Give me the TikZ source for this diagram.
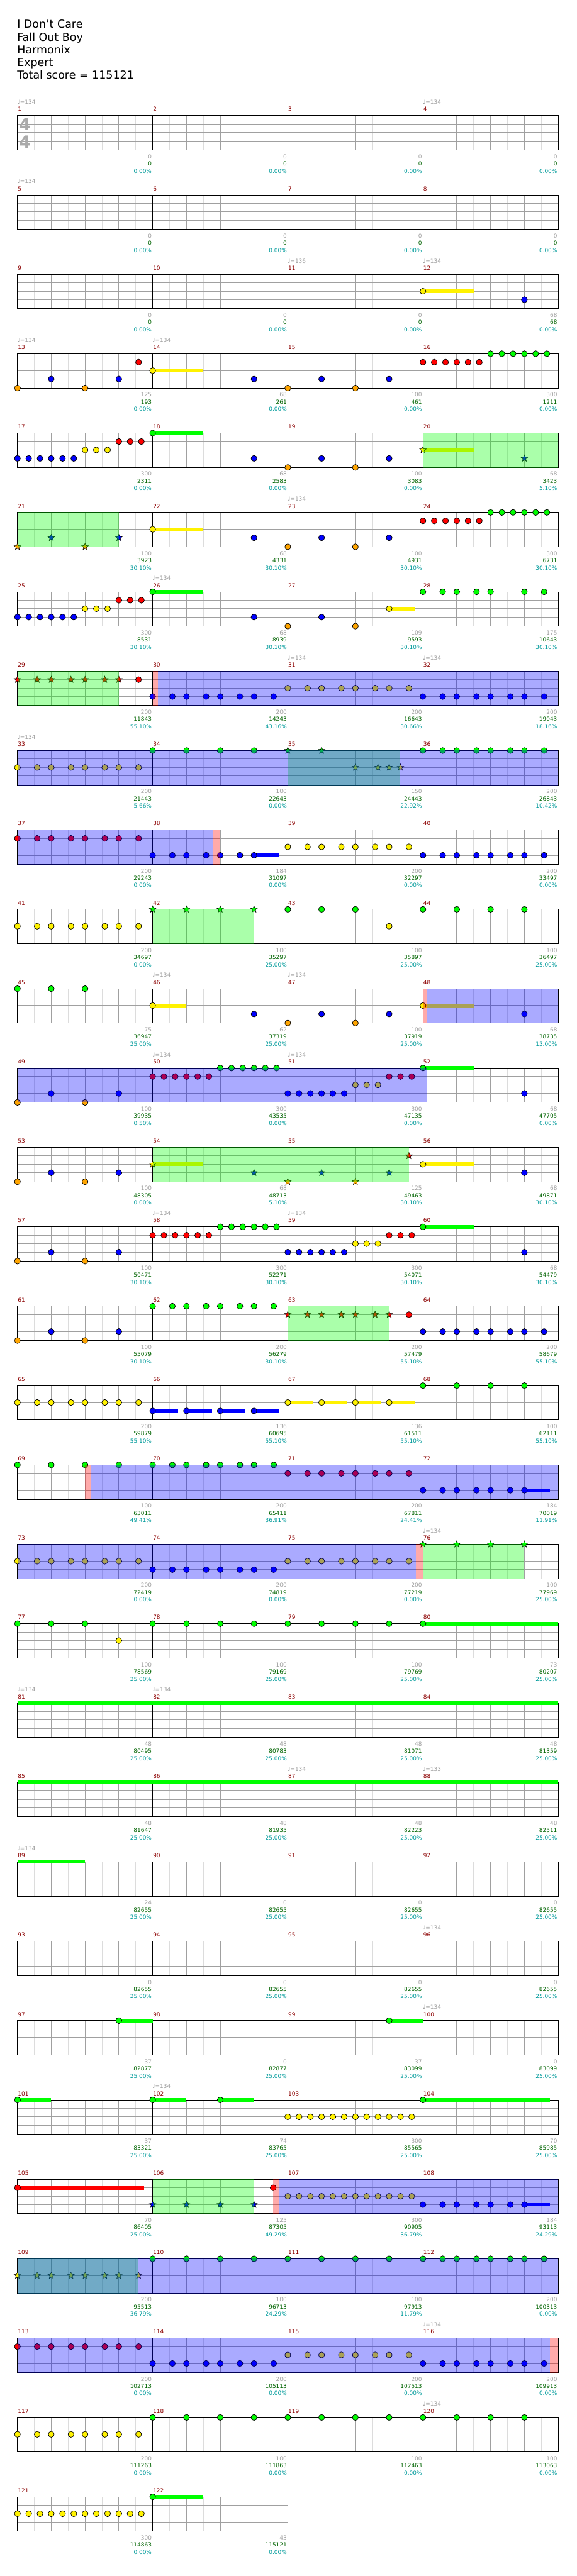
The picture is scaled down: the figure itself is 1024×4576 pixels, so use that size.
\documentclass[tikz,border=0pt]{standalone}
\usepackage{fontspec}
\setmainfont{DejaVu Sans}
\usetikzlibrary{shapes.geometric}

\pgfdeclarelayer{bg}
\pgfdeclarelayer{fg}
\pgfsetlayers{bg,main,fg}

\definecolor{gridd}{RGB}{160,160,160}
\definecolor{gridl}{RGB}{220,220,220}
\definecolor{mnumc}{RGB}{140,0,0}
\definecolor{sgray}{RGB}{160,160,160}
\definecolor{sgreen}{RGB}{0,100,0}
\definecolor{scyan}{RGB}{0,155,155}
\definecolor{kick}{RGB}{255,165,0}
\definecolor{lgreen}{RGB}{0,255,0}
\definecolor{palec}{RGB}{255,255,213}
\definecolor{tsigc}{RGB}{170,170,170}

\newcommand{\lbl}{\fontsize{10}{12}\selectfont}

\tikzset{
  note/.style={circle, draw=black, line width=0.8pt, minimum size=10.5pt, inner sep=0pt},
  nG/.style={note, fill=lgreen}, nR/.style={note, fill=red},
  nY/.style={note, fill=yellow}, nB/.style={note, fill=blue},
  nK/.style={note, fill=kick},
  starnote/.style={star, star points=5, star point ratio=2.3, draw=black,
    line width=0.6pt, minimum size=12.5pt, inner sep=0pt},
  sG/.style={starnote, fill=lgreen}, sR/.style={starnote, fill=red},
  sY/.style={starnote, fill=yellow}, sB/.style={starnote, fill=blue},
  sK/.style={starnote, fill=kick},
  mnum/.style={anchor=base west, inner sep=0pt, text=mnumc, font=\lbl},
  stat/.style={anchor=base east, inner sep=0pt, font=\lbl},
  tempo/.style={anchor=base west, inner sep=0pt, text=sgray, font=\lbl},
  tsig/.style={inner sep=0pt, text=tsigc, font=\fontsize{30}{30}\selectfont\bfseries},
  title/.style={anchor=base west, inner sep=0pt, font=\fontsize{19.5}{23}\selectfont}
}

% lanes
\def\lnG{0}
\def\lnR{15}
\def\lnY{30}
\def\lnB{45}
\def\lnK{61}
% rhythms
\def\lsw{0,35,60,95,120,155,180,215}
\def\lswa{0,35,60,95,120,155,180}
\def\lqt{0,60,120,180}
\def\ltA{0,20,40,60,80,100}
\def\ltB{120,140,160,180,200,220}
\def\ltw{0,20,40,60,80,100,120,140,160,180,200,220}

\newcommand{\staffrow}[2]{%
  \begin{scope}[row=#1]
    \foreach \m in {1,...,#2} {
      \pgfmathsetmacro\xa{240*(\m-1)}
      \foreach \b in {30,90,150,210} \draw[gridl] (\xa+\b,0) -- (\xa+\b,61);
    }
    \foreach \y in {15,30,45} \draw[gridd] (0,\y) -- (240*#2,\y);
    \foreach \m in {1,...,#2} {
      \pgfmathsetmacro\xa{240*(\m-1)}
      \foreach \b in {60,120,180} \draw[gridd] (\xa+\b,0) -- (\xa+\b,61);
      \draw (\xa,0) -- (\xa,61);
      \pgfmathtruncatemacro\mnumber{4*#1+\m}
      \node[mnum] at (\xa+0.3,-7.6) {\mnumber};
    }
    \draw (0,0) rectangle (240*#2,61);
  \end{scope}}

\newcommand{\nts}[4]{%
  \edef\ntlist{#4}%
  \foreach \x in \ntlist {\node[#2] at ({240*#1+\x},#3) {};}}
\newcommand{\sus}[5]{\draw[line width=6.5pt, draw=#2] ({240*#1+#4},#3) -- ({240*#1+#5},#3);}
\newcommand{\ov}[3]{\begin{pgfonlayer}{fg}\fill[#1, opacity=0.333] (#2,-0.5) rectangle (#3,61.5);\end{pgfonlayer}}
\newcommand{\palebox}[2]{\begin{pgfonlayer}{bg}\fill[palec] (#1,-10.5) rectangle (#2,71.5);\end{pgfonlayer}}
\newcommand{\grv}[1]{\nts{#1}{nK}{\lnK}{0,120}\nts{#1}{nB}{\lnB}{60,180}}
\newcommand{\runA}[1]{\nts{#1}{nB}{\lnB}{\ltA}\nts{#1}{nY}{\lnY}{120,140,160}\nts{#1}{nR}{\lnR}{180,200,220}}
\newcommand{\runB}[1]{\nts{#1}{nR}{\lnR}{\ltA}\nts{#1}{nG}{\lnG}{\ltB}}
\newcommand{\stats}[2]{%
  \begin{scope}[row=#1]
    \foreach \sa/\sb/\sc [count=\m] in {#2} {
      \node[stat, text=sgray] at (240*\m-1.3,76.4) {\sa};
      \node[stat, text=sgreen] at (240*\m-1.3,89) {\sb};
      \node[stat, text=scyan] at (240*\m-1.3,102) {\sc\%};
    }
  \end{scope}}

\begin{document}
\begin{tikzpicture}[x=1pt, y=-1pt, line width=1pt,
  row/.style={shift={(31,{205.3+141*#1})}}]

  \useasboundingbox[fill=white] (0,0) rectangle (1024,4576);

  \node[title] (song) at (30,49.3) {I Don't Care};
  \node[title] (band) at (30,72.7) {Fall Out Boy};
  \node[title] (author) at (30,95) {Harmonix};
  \node[title] (level) at (30,118.3) {Expert};
  \node[title] (total) at (30,140.7) {Total score = 115121};

  \foreach \k in {0,...,29} {\staffrow{\k}{4}}
  \staffrow{30}{2}

  \node[tsig] (tsa) at (44.5,221) {4};
  \node[tsig] (tsb) at (44.5,251.7) {4};

  \foreach \r/\i/\v in {0/0/134, 0/3/134, 1/0/134, 2/2/136, 2/3/134, 3/0/134,
      3/1/134, 5/2/134, 6/1/134, 7/2/134, 7/3/134, 8/0/134, 11/1/134,
      11/2/134, 12/1/134, 12/2/134, 14/1/134, 14/2/134, 18/3/134, 20/0/134,
      20/1/134, 21/2/134, 21/3/133, 22/0/134, 23/3/134, 24/3/134, 25/1/134,
      28/3/134, 29/3/134}
    \node[tempo] at ({31+240*\i-0.6},{205.3+141*\r-20.3}) {♩=\v};

  % measures 9-12
  \begin{scope}[row=2]
    \sus{3}{yellow}{\lnY}{0}{90}\nts{3}{nY}{\lnY}{0}\nts{3}{nB}{\lnB}{180}
  \end{scope}

  % measures 13-16
  \begin{scope}[row=3]
    \grv{0}\nts{0}{nR}{\lnR}{215}
    \sus{1}{yellow}{\lnY}{0}{90}\nts{1}{nY}{\lnY}{0}\nts{1}{nB}{\lnB}{180}
    \grv{2}
    \runB{3}
  \end{scope}

  % measures 17-20
  \begin{scope}[row=4]
    \runA{0}
    \sus{1}{lgreen}{\lnG}{0}{90}\nts{1}{nG}{\lnG}{0}\nts{1}{nB}{\lnB}{180}
    \grv{2}
    \sus{3}{yellow}{\lnY}{0}{90}\nts{3}{sY}{\lnY}{0}\nts{3}{sB}{\lnB}{180}
    \ov{lgreen}{720}{960}
  \end{scope}

  % measures 21-24
  \begin{scope}[row=5]
    \nts{0}{sK}{\lnK}{0,120}\nts{0}{sB}{\lnB}{60,180}
    \sus{1}{yellow}{\lnY}{0}{90}\nts{1}{nY}{\lnY}{0}\nts{1}{nB}{\lnB}{180}
    \grv{2}
    \runB{3}
    \ov{lgreen}{0}{180}
  \end{scope}

  % measures 25-28
  \begin{scope}[row=6]
    \runA{0}
    \sus{1}{lgreen}{\lnG}{0}{90}\nts{1}{nG}{\lnG}{0}\nts{1}{nB}{\lnB}{180}
    \nts{2}{nK}{\lnK}{0,120}\nts{2}{nB}{\lnB}{60}
    \sus{2}{yellow}{\lnY}{180}{225}\nts{2}{nY}{\lnY}{180}
    \nts{3}{nG}{\lnG}{0,35,60,95,120,180,215}
  \end{scope}

  % measures 29-32
  \begin{scope}[row=7]
    \palebox{0}{180}
    \nts{0}{sR}{\lnR}{\lswa}\nts{0}{nR}{\lnR}{215}
    \nts{1}{nB}{\lnB}{\lsw}
    \nts{2}{nY}{\lnY}{\lsw}
    \nts{3}{nB}{\lnB}{\lsw}
    \ov{lgreen}{0}{180}
    \ov{blue}{249.5}{960}
    \ov{red}{240}{249.5}
  \end{scope}

  % measures 33-36
  \begin{scope}[row=8]
    \nts{0}{nY}{\lnY}{\lsw}
    \nts{1}{nG}{\lnG}{\lqt}
    \nts{2}{sG}{\lnG}{0,60}\nts{2}{sY}{\lnY}{120,160,180,200}
    \nts{3}{nG}{\lnG}{\lsw}
    \ov{lgreen}{480}{680}
    \ov{blue}{0}{960}
  \end{scope}

  % measures 37-40
  \begin{scope}[row=9]
    \nts{0}{nR}{\lnR}{\lsw}
    \sus{1}{blue}{\lnB}{180}{225}\nts{1}{nB}{\lnB}{\lswa}
    \nts{2}{nY}{\lnY}{\lsw}
    \nts{3}{nB}{\lnB}{\lsw}
    \ov{blue}{0}{347}
    \ov{red}{347}{360}
  \end{scope}

  % measures 41-44
  \begin{scope}[row=10]
    \nts{0}{nY}{\lnY}{\lsw}
    \palebox{240}{420}
    \nts{1}{sG}{\lnG}{\lqt}
    \nts{2}{nG}{\lnG}{0,60,120}\nts{2}{nY}{\lnY}{180}
    \nts{3}{nG}{\lnG}{\lqt}
    \ov{lgreen}{240}{420}
  \end{scope}

  % measures 45-48
  \begin{scope}[row=11]
    \nts{0}{nG}{\lnG}{0,60,120}
    \sus{1}{yellow}{\lnY}{0}{60}\nts{1}{nY}{\lnY}{0}\nts{1}{nB}{\lnB}{180}
    \grv{2}
    \sus{3}{yellow}{\lnY}{0}{90}\nts{3}{nY}{\lnY}{0}\nts{3}{nB}{\lnB}{180}
    \ov{blue}{728}{960}
    \ov{red}{720}{728}
  \end{scope}

  % measures 49-52
  \begin{scope}[row=12]
    \grv{0}
    \runB{1}
    \runA{2}
    \sus{3}{lgreen}{\lnG}{0}{90}\nts{3}{nG}{\lnG}{0}\nts{3}{nB}{\lnB}{180}
    \ov{blue}{0}{728}
  \end{scope}

  % measures 53-56
  \begin{scope}[row=13]
    \grv{0}
    \sus{1}{yellow}{\lnY}{0}{90}\nts{1}{sY}{\lnY}{0}\nts{1}{sB}{\lnB}{180}
    \nts{2}{sK}{\lnK}{0,120}\nts{2}{sB}{\lnB}{60,180}\nts{2}{sR}{\lnR}{215}
    \sus{3}{yellow}{\lnY}{0}{90}\nts{3}{nY}{\lnY}{0}\nts{3}{nB}{\lnB}{180}
    \ov{lgreen}{240}{695}
  \end{scope}

  % measures 57-60
  \begin{scope}[row=14]
    \grv{0}
    \runB{1}
    \runA{2}
    \sus{3}{lgreen}{\lnG}{0}{90}\nts{3}{nG}{\lnG}{0}\nts{3}{nB}{\lnB}{180}
  \end{scope}

  % measures 61-64
  \begin{scope}[row=15]
    \grv{0}
    \nts{1}{nG}{\lnG}{\lsw}
    \palebox{480}{660}
    \nts{2}{sR}{\lnR}{\lswa}\nts{2}{nR}{\lnR}{215}
    \nts{3}{nB}{\lnB}{\lsw}
    \ov{lgreen}{480}{660}
  \end{scope}

  % measures 65-68
  \begin{scope}[row=16]
    \nts{0}{nY}{\lnY}{\lsw}
    \foreach \t in {0,60,120,180} {\sus{1}{blue}{\lnB}{\t}{\t+45}\sus{2}{yellow}{\lnY}{\t}{\t+45}}
    \nts{1}{nB}{\lnB}{\lqt}
    \nts{2}{nY}{\lnY}{\lqt}
    \nts{3}{nG}{\lnG}{\lqt}
  \end{scope}

  % measures 69-72
  \begin{scope}[row=17]
    \nts{0}{nG}{\lnG}{\lqt}
    \nts{1}{nG}{\lnG}{\lsw}
    \nts{2}{nR}{\lnR}{\lsw}
    \sus{3}{blue}{\lnB}{180}{225}\nts{3}{nB}{\lnB}{\lswa}
    \ov{blue}{130}{960}
    \ov{red}{120}{130}
  \end{scope}

  % measures 73-76
  \begin{scope}[row=18]
    \nts{0}{nY}{\lnY}{\lsw}
    \nts{1}{nB}{\lnB}{\lsw}
    \nts{2}{nY}{\lnY}{\lsw}
    \palebox{720}{900}
    \nts{3}{sG}{\lnG}{\lqt}
    \ov{lgreen}{720}{900}
    \ov{blue}{0}{708}
    \ov{red}{708}{720}
  \end{scope}

  % measures 77-80
  \begin{scope}[row=19]
    \nts{0}{nG}{\lnG}{0,60,120}\nts{0}{nY}{\lnY}{180}
    \nts{1}{nG}{\lnG}{\lqt}
    \nts{2}{nG}{\lnG}{\lqt}
    \sus{3}{lgreen}{\lnG}{0}{240}\nts{3}{nG}{\lnG}{0}
  \end{scope}

  % measures 81-92
  \begin{scope}[row=20]
    \sus{0}{lgreen}{\lnG}{0}{960}
  \end{scope}
  \begin{scope}[row=21]
    \sus{0}{lgreen}{\lnG}{0}{960}
  \end{scope}
  \begin{scope}[row=22]
    \sus{0}{lgreen}{\lnG}{0}{120}
  \end{scope}

  % measures 97-100
  \begin{scope}[row=24]
    \sus{0}{lgreen}{\lnG}{180}{240}\nts{0}{nG}{\lnG}{180}
    \sus{2}{lgreen}{\lnG}{180}{240}\nts{2}{nG}{\lnG}{180}
  \end{scope}

  % measures 101-104
  \begin{scope}[row=25]
    \sus{0}{lgreen}{\lnG}{0}{60}\nts{0}{nG}{\lnG}{0}
    \sus{1}{lgreen}{\lnG}{0}{60}\sus{1}{lgreen}{\lnG}{120}{180}\nts{1}{nG}{\lnG}{0,120}
    \nts{2}{nY}{\lnY}{\ltw}
    \sus{3}{lgreen}{\lnG}{0}{225}\nts{3}{nG}{\lnG}{0}
  \end{scope}

  % measures 105-108
  \begin{scope}[row=26]
    \sus{0}{red}{\lnR}{0}{225}\nts{0}{nR}{\lnR}{0}
    \palebox{240}{420}
    \nts{1}{sB}{\lnB}{\lqt}\nts{1}{nR}{\lnR}{214}
    \nts{2}{nY}{\lnY}{\ltw}
    \sus{3}{blue}{\lnB}{180}{225}\nts{3}{nB}{\lnB}{\lswa}
    \ov{lgreen}{240}{420}
    \ov{blue}{465}{960}
    \ov{red}{454}{465}
  \end{scope}

  % measures 109-112
  \begin{scope}[row=27]
    \nts{0}{sY}{\lnY}{\lsw}
    \nts{1}{nG}{\lnG}{\lqt}
    \nts{2}{nG}{\lnG}{\lqt}
    \nts{3}{nG}{\lnG}{\lsw}
    \ov{lgreen}{0}{215}
    \ov{blue}{0}{960}
  \end{scope}

  % measures 113-116
  \begin{scope}[row=28]
    \nts{0}{nR}{\lnR}{\lsw}
    \nts{1}{nB}{\lnB}{\lsw}
    \nts{2}{nY}{\lnY}{\lsw}
    \nts{3}{nB}{\lnB}{\lsw}
    \ov{blue}{0}{945}
    \ov{red}{945}{960}
  \end{scope}

  % measures 117-120
  \begin{scope}[row=29]
    \nts{0}{nY}{\lnY}{\lsw}
    \nts{1}{nG}{\lnG}{\lqt}
    \nts{2}{nG}{\lnG}{\lqt}
    \nts{3}{nG}{\lnG}{\lqt}
  \end{scope}

  % measures 121-122
  \begin{scope}[row=30]
    \nts{0}{nY}{\lnY}{\ltw}
    \sus{1}{lgreen}{\lnG}{0}{90}\nts{1}{nG}{\lnG}{0}
  \end{scope}

  % scores
  \stats{0}{0/0/0.00, 0/0/0.00, 0/0/0.00, 0/0/0.00}
  \stats{1}{0/0/0.00, 0/0/0.00, 0/0/0.00, 0/0/0.00}
  \stats{2}{0/0/0.00, 0/0/0.00, 0/0/0.00, 68/68/0.00}
  \stats{3}{125/193/0.00, 68/261/0.00, 100/461/0.00, 300/1211/0.00}
  \stats{4}{300/2311/0.00, 68/2583/0.00, 100/3083/0.00, 68/3423/5.10}
  \stats{5}{100/3923/30.10, 68/4331/30.10, 100/4931/30.10, 300/6731/30.10}
  \stats{6}{300/8531/30.10, 68/8939/30.10, 109/9593/30.10, 175/10643/30.10}
  \stats{7}{200/11843/55.10, 200/14243/43.16, 200/16643/30.66, 200/19043/18.16}
  \stats{8}{200/21443/5.66, 100/22643/0.00, 150/24443/22.92, 200/26843/10.42}
  \stats{9}{200/29243/0.00, 184/31097/0.00, 200/32297/0.00, 200/33497/0.00}
  \stats{10}{200/34697/0.00, 100/35297/25.00, 100/35897/25.00, 100/36497/25.00}
  \stats{11}{75/36947/25.00, 62/37319/25.00, 100/37919/25.00, 68/38735/13.00}
  \stats{12}{100/39935/0.50, 300/43535/0.00, 300/47135/0.00, 68/47705/0.00}
  \stats{13}{100/48305/0.00, 68/48713/5.10, 125/49463/30.10, 68/49871/30.10}
  \stats{14}{100/50471/30.10, 300/52271/30.10, 300/54071/30.10, 68/54479/30.10}
  \stats{15}{100/55079/30.10, 200/56279/30.10, 200/57479/55.10, 200/58679/55.10}
  \stats{16}{200/59879/55.10, 136/60695/55.10, 136/61511/55.10, 100/62111/55.10}
  \stats{17}{100/63011/49.41, 200/65411/36.91, 200/67811/24.41, 184/70019/11.91}
  \stats{18}{200/72419/0.00, 200/74819/0.00, 200/77219/0.00, 100/77969/25.00}
  \stats{19}{100/78569/25.00, 100/79169/25.00, 100/79769/25.00, 73/80207/25.00}
  \stats{20}{48/80495/25.00, 48/80783/25.00, 48/81071/25.00, 48/81359/25.00}
  \stats{21}{48/81647/25.00, 48/81935/25.00, 48/82223/25.00, 48/82511/25.00}
  \stats{22}{24/82655/25.00, 0/82655/25.00, 0/82655/25.00, 0/82655/25.00}
  \stats{23}{0/82655/25.00, 0/82655/25.00, 0/82655/25.00, 0/82655/25.00}
  \stats{24}{37/82877/25.00, 0/82877/25.00, 37/83099/25.00, 0/83099/25.00}
  \stats{25}{37/83321/25.00, 74/83765/25.00, 300/85565/25.00, 70/85985/25.00}
  \stats{26}{70/86405/25.00, 125/87305/49.29, 300/90905/36.79, 184/93113/24.29}
  \stats{27}{200/95513/36.79, 100/96713/24.29, 100/97913/11.79, 200/100313/0.00}
  \stats{28}{200/102713/0.00, 200/105113/0.00, 200/107513/0.00, 200/109913/0.00}
  \stats{29}{200/111263/0.00, 100/111863/0.00, 100/112463/0.00, 100/113063/0.00}
  \stats{30}{300/114863/0.00, 43/115121/0.00}

\end{tikzpicture}
\end{document}
